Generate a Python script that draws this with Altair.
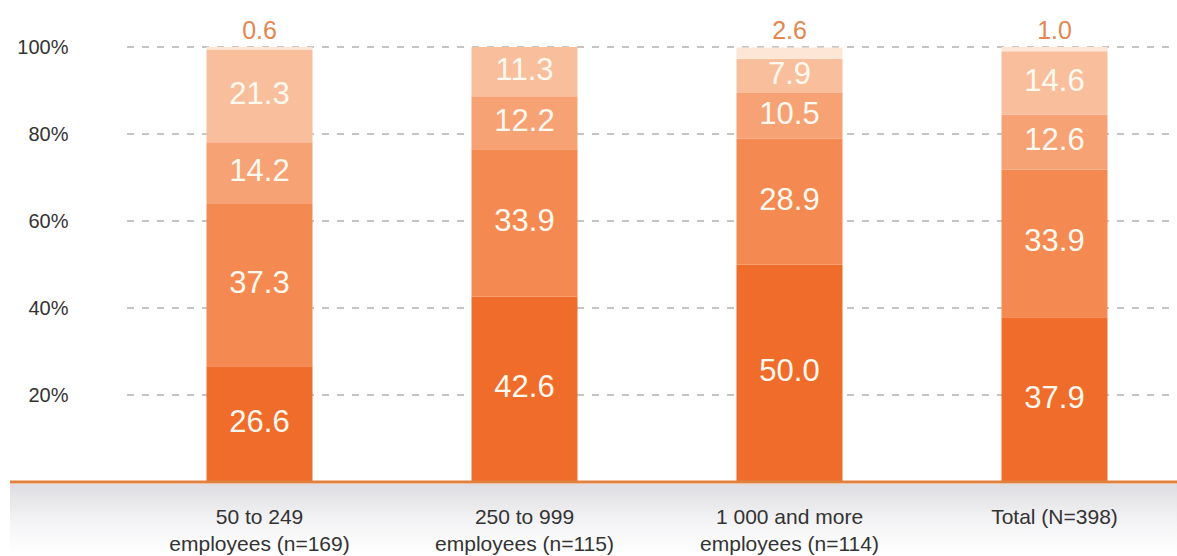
import altair as alt
import pandas as pd

categories = ["50 to 249|employees (n=169)", "250 to 999|employees (n=115)",
              "1 000 and more|employees (n=114)", "Total (N=398)"]
seg_names = ["s1", "s2", "s3", "s4", "s5"]
s1 = [26.6, 42.6, 50.0, 37.9]
s2 = [37.3, 33.9, 28.9, 33.9]
s3 = [14.2, 12.2, 10.5, 12.6]
s4 = [21.3, 11.3, 7.9, 14.6]
s5 = [0.6, 0.0, 2.6, 1.0]
seg_colors = ["#EF6C2B", "#F48A52", "#F6A274", "#F9BF9D", "#FDE6D6"]
y_ticks = [20, 40, 60, 80, 100]

series = [s1, s2, s3, s4, s5]
rows = []
for i, cat in enumerate(categories):
    base = 0.0
    for k, name in enumerate(seg_names):
        v = series[k][i]
        rows.append({"cat": cat, "seg": name, "value": v, "y0": base, "y1": base + v,
                     "mid": base + v / 2, "label": f"{v:.1f}"})
        base += v
df = pd.DataFrame(rows)
inner = df[df["seg"] != "s5"]
top = df[(df["seg"] == "s5") & (df["value"] > 0)]
cat_df = pd.DataFrame({"cat": categories})

FONT = "Liberation Sans"
W, H = 1050, 435

xscale = alt.Scale(domain=categories, range=[0, 1060], paddingInner=0, paddingOuter=0)
yscale = alt.Scale(domain=[0, 100], nice=False, zero=True)

xaxis = alt.Axis(title=None, labels=False, domain=False, ticks=False)
yaxis = alt.Axis(title=None, values=y_ticks, labelExpr="datum.value + '%'",
                 domain=False, ticks=False, grid=False, labelPadding=59,
                 labelFontSize=20, labelColor="#333333", labelFont=FONT)

one = pd.DataFrame({"a": [0]})

band = alt.Chart(one).mark_rect(
    color=alt.LinearGradient(
        gradient="linear",
        stops=[alt.GradientStop(color="#DEDEE2", offset=0),
               alt.GradientStop(color="#F4F4F6", offset=0.55),
               alt.GradientStop(color="#FFFFFF", offset=1)],
        x1=0, x2=0, y1=0, y2=1)
).encode(x=alt.value(-117), x2=alt.value(W), y=alt.value(H + 2), y2=alt.value(H + 72))

grid = alt.Chart(pd.DataFrame({"g": y_ticks})).mark_rule(
    color="#8A8A8A", strokeWidth=1, strokeDash=[7, 8]
).encode(y=alt.Y("g:Q", scale=yscale, axis=yaxis), x=alt.value(0), x2=alt.value(W))

bars = alt.Chart(df).mark_bar(size=106).encode(
    x=alt.X("cat:N", scale=xscale, axis=xaxis, sort=categories),
    y=alt.Y("y0:Q", scale=yscale),
    y2="y1:Q",
    color=alt.Color("seg:N", scale=alt.Scale(domain=seg_names, range=seg_colors), legend=None),
)

baseline = alt.Chart(one).mark_rule(color="#E2803F", strokeWidth=3).encode(
    x=alt.value(-117), x2=alt.value(W), y=alt.value(H))

inner_text = alt.Chart(inner).mark_text(
    font=FONT, fontSize=31, color="#FFF9EF", baseline="middle", align="center", dy=-1
).encode(x=alt.X("cat:N", scale=xscale, sort=categories),
         y=alt.Y("mid:Q", scale=yscale), text="label:N")

top_text = alt.Chart(top).mark_text(
    font=FONT, fontSize=25, color="#E3874F", baseline="middle", align="center", dy=-16
).encode(x=alt.X("cat:N", scale=xscale, sort=categories),
         y=alt.value(0), text="label:N")

x_labels = alt.Chart(cat_df).mark_text(
    font=FONT, fontSize=21, lineHeight=27, lineBreak="|", color="#333333",
    baseline="top", align="center"
).encode(x=alt.X("cat:N", scale=xscale, sort=categories),
         y=alt.value(H + 25), text="cat:N")

chart = alt.layer(band, grid, bars, baseline, inner_text, top_text, x_labels).properties(
    width=W, height=H,
    autosize=alt.AutoSizeParams(type="none"),
    padding={"left": 127, "top": 47, "right": 0, "bottom": 74},
    background="#FFFFFF",
).configure_view(stroke=None)

chart.save("out.html", embed_options={"renderer": "svg", "actions": False})
